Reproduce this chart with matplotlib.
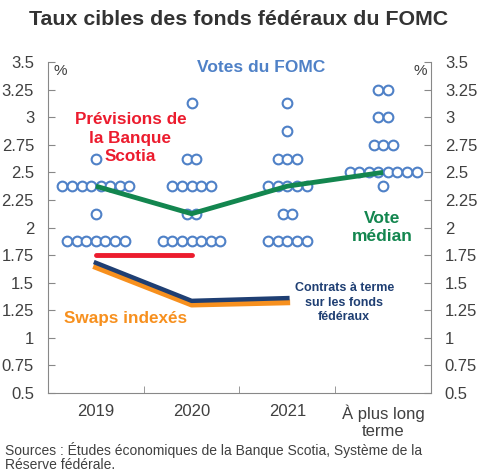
import matplotlib
matplotlib.use('Agg')
import matplotlib.pyplot as plt
import numpy as np

plt.rcParams['font.family'] = ['Liberation Sans', 'DejaVu Sans']

categories = ['2019', '2020', '2021', 'À plus long\nterme']

# FOMC dot plot: (rate, number of participants) per period
dots_2019 = [(2.625, 1), (2.375, 8), (2.125, 1), (1.875, 7)]
dots_2020 = [(3.125, 1), (2.625, 2), (2.375, 5), (2.125, 2), (1.875, 7)]
dots_2021 = [(3.125, 1), (2.875, 1), (2.625, 3), (2.375, 5), (2.125, 2), (1.875, 5)]
dots_long = [(3.25, 2), (3.0, 2), (2.75, 3), (2.5, 8), (2.375, 1)]
dot_groups = [dots_2019, dots_2020, dots_2021, dots_long]

median_vote = [2.375, 2.125, 2.375, 2.5]
scotia_fcst = [1.75, 1.75]
fed_futures = [1.68, 1.335, 1.36]
ois_swaps = [1.64, 1.30, 1.32]

BLUE_DOT = '#4F81C7'
GREEN = '#13864F'
RED = '#EC1C2E'
NAVY = '#1F3F73'
ORANGE = '#F7901E'
GREY = '#404040'

fig = plt.figure(figsize=(4.81, 4.74), dpi=100)
ax = fig.add_axes([0.0998, 0.171, 0.7962, 0.698])

# dots
for i, grp in enumerate(dot_groups):
    for rate, n in grp:
        xs = i + (np.arange(n) - (n - 1) / 2) * 0.1
        ax.plot(xs, [rate] * n, 'o', ls='none', ms=7, mfc='white',
                mec=BLUE_DOT, mew=1.5, zorder=3)

x = np.arange(len(categories))
ax.plot(x, median_vote, color=GREEN, lw=3.5, zorder=4, solid_capstyle='butt')
ax.plot(x[:2], scotia_fcst, color=RED, lw=3.5, solid_capstyle='round', zorder=4)
ax.plot(x[:3], ois_swaps, color=ORANGE, lw=4, zorder=4)
ax.plot(x[:3], fed_futures, color=NAVY, lw=3.2, zorder=5)

ax.set_xlim(-0.5, 3.5)
ax.set_ylim(0.5, 3.5)
yt = np.arange(0.5, 3.51, 0.25)
ax.set_yticks(yt)
ax.set_yticklabels(['%g' % v for v in yt])
ax.set_xticks(x)
ax.set_xticklabels(categories)
ax.set_xticks(np.arange(-0.5, 3.6, 1), minor=True)
ax.tick_params(axis='x', which='major', length=0, labelsize=12,
               colors=GREY, pad=8)
ax.tick_params(axis='x', which='minor', direction='in', length=5,
               color='#888888')
ax.tick_params(axis='y', direction='in', length=5, color='#888888',
               labelsize=12, labelcolor=GREY, left=True, right=True,
               labelleft=True, labelright=True, pad=10)
for s in ['left', 'right', 'bottom']:
    ax.spines[s].set_color('#888888')
ax.spines['top'].set_visible(False)

ax.text(0.015, 0.995, '%', transform=ax.transAxes, fontsize=11,
        color=GREY, va='top', ha='left')
ax.text(0.99, 0.995, '%', transform=ax.transAxes, fontsize=11,
        color=GREY, va='top', ha='right')

ax.text(1.73, 3.455, 'Votes du FOMC', color=BLUE_DOT, fontsize=12.5,
        fontweight='bold', ha='center', va='center')
ax.text(0.36, 2.81, 'Prévisions de\nla Banque\nScotia', color=RED,
        fontsize=12.3, fontweight='bold', ha='center', va='center',
        linespacing=1.3)
ax.text(2.99, 2.0, 'Vote\nmédian', color=GREEN, fontsize=12.5,
        fontweight='bold', ha='center', va='center', linespacing=1.27)
ax.text(2.594, 1.32, 'Contrats à terme\nsur les fonds\nfédéraux', color=NAVY,
        fontsize=9, fontweight='bold', ha='center', va='center',
        linespacing=1.28)
ax.text(-0.333, 1.172, 'Swaps indexés', color=ORANGE, fontsize=12.3,
        fontweight='bold', ha='left', va='center')

fig.text(0.495, 0.958, 'Taux cibles des fonds fédéraux du FOMC',
         fontsize=15.4, fontweight='bold', color='#333333', ha='center',
         va='center')
fig.text(0.01, 0.035, 'Sources : Études économiques de la Banque Scotia, '
         'Système de la\nRéserve fédérale.', fontsize=10, color=GREY,
         ha='left', va='center', linespacing=1.0)

fig.savefig('out.png', dpi=100)
